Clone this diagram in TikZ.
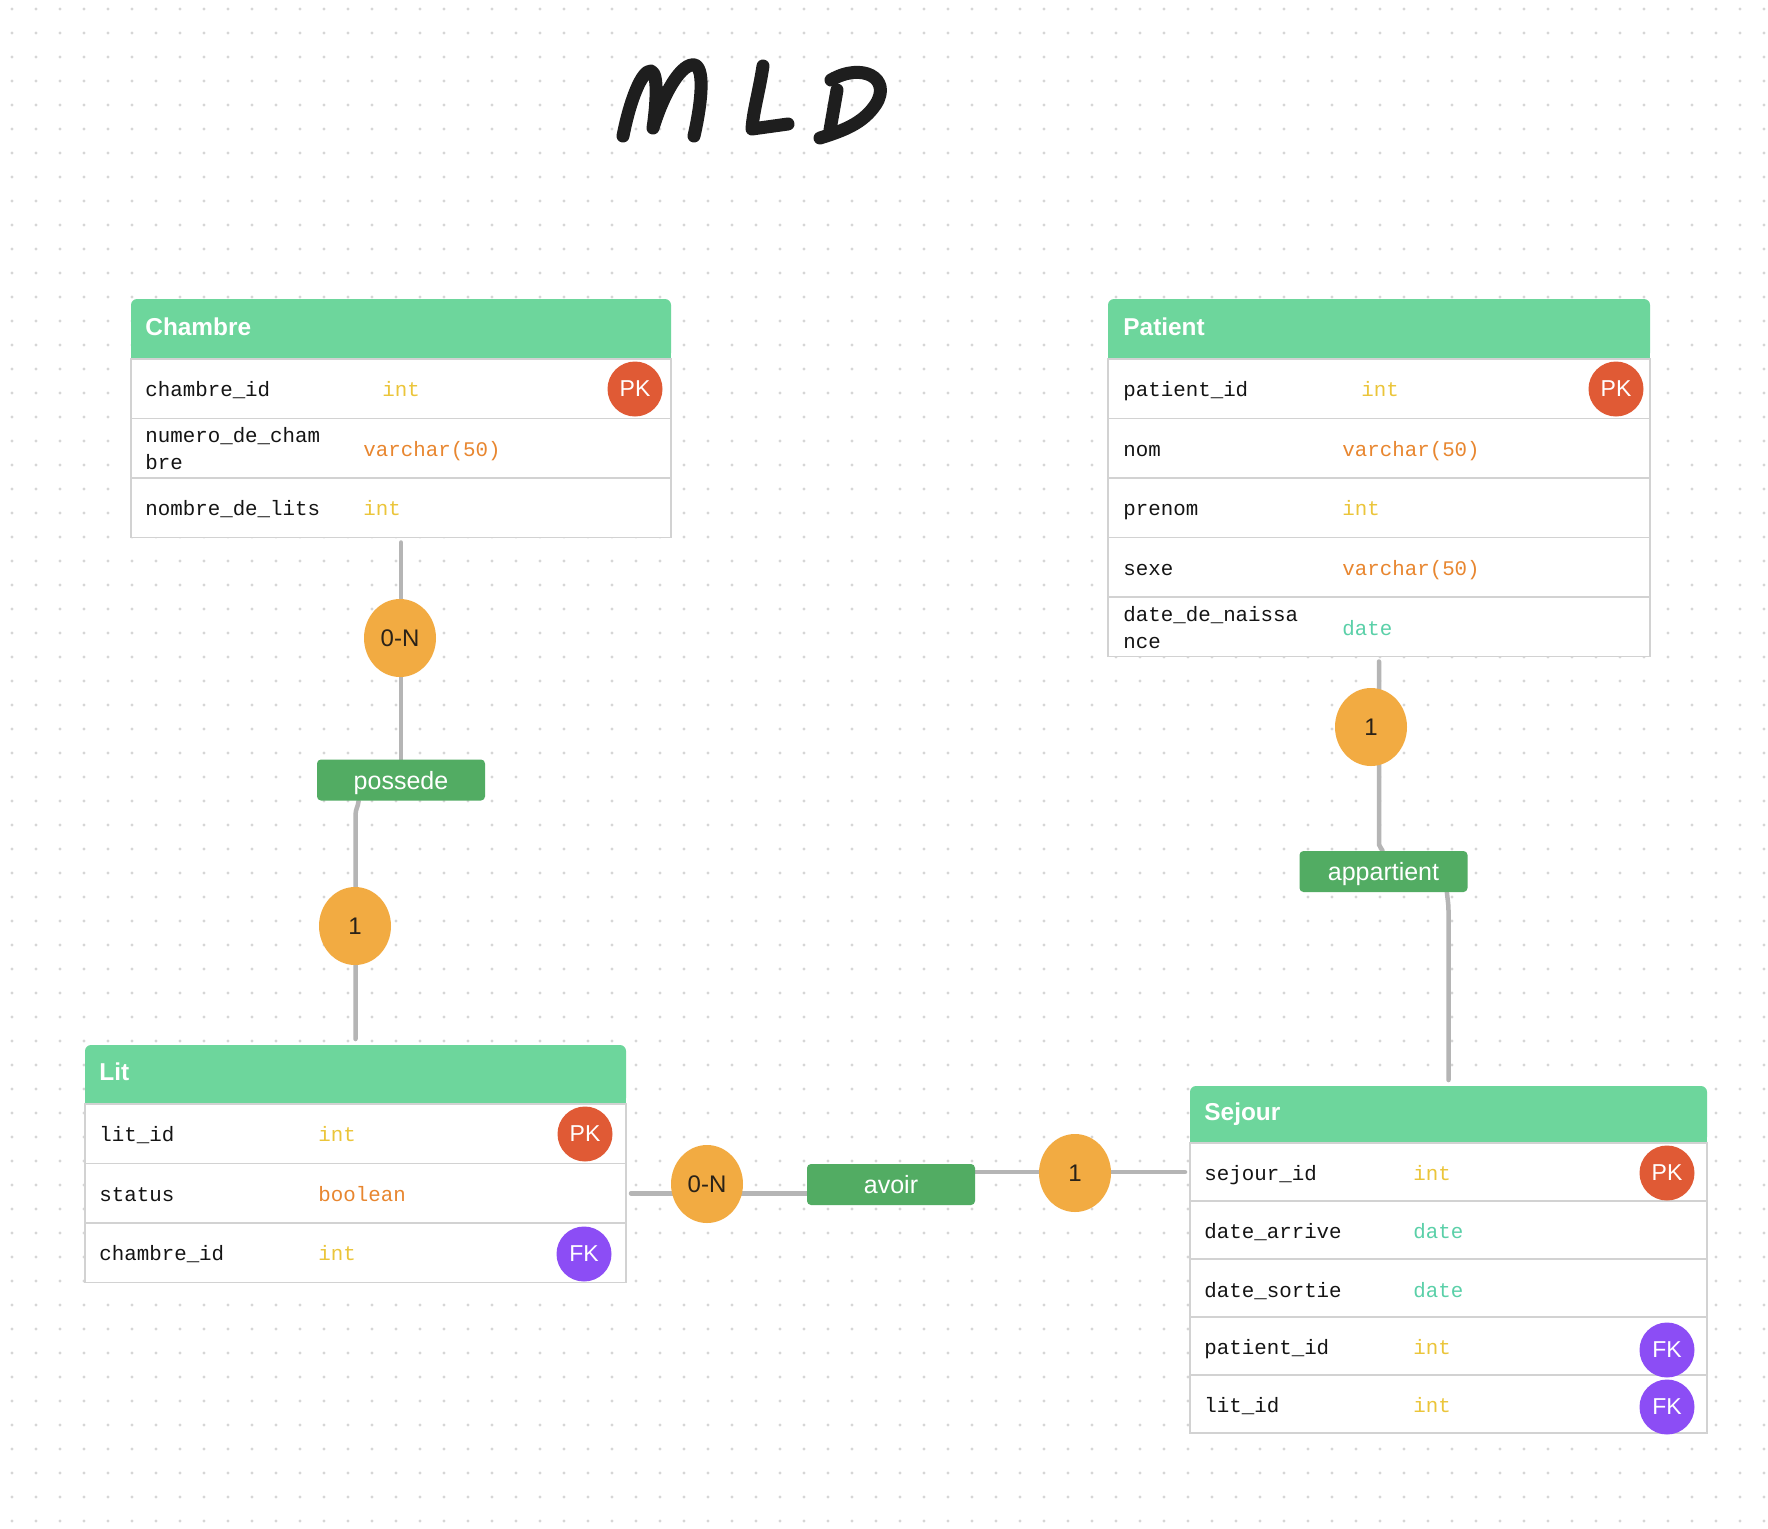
\documentclass[tikz,border=0pt]{standalone}
\usepackage{fontspec}
\setmainfont{Liberation Sans}
\newfontfamily\monof{Liberation Mono}
\usetikzlibrary{shapes.geometric,calc}
\definecolor{hdr}{HTML}{6DD69C}
\definecolor{relgreen}{HTML}{52AC63}
\definecolor{cardor}{HTML}{F2AB42}
\definecolor{cardtxt}{HTML}{2A2218}
\definecolor{pkred}{HTML}{E05A35}
\definecolor{fkpurple}{HTML}{8C4DF5}
\definecolor{cint}{HTML}{EBC53A}
\definecolor{cvar}{HTML}{E8862F}
\definecolor{cdate}{HTML}{5AD0A8}
\definecolor{dotc}{HTML}{D6D6D6}
\definecolor{rowline}{HTML}{D2D2D2}
\definecolor{conngray}{HTML}{B5B5B5}
\definecolor{txt}{HTML}{141414}
\definecolor{ttl}{HTML}{1E1E1E}
\pgfdeclarelayer{bg}
\pgfdeclarelayer{lines}
\pgfsetlayers{bg,lines,main}
\begin{document}
\begin{tikzpicture}[x=0.5pt,y=-0.5pt,
  rowbox/.style={rectangle, draw=rowline, line width=0.75pt, fill=white, inner sep=0pt, outer sep=0pt, anchor=north west},
  hdrbox/.style={rectangle, fill=hdr, rounded corners=3pt, inner sep=0pt, outer sep=0pt, anchor=north west},
  hdrtxt/.style={anchor=west, inner sep=0pt, text=white, font=\bfseries\fontsize{12.2}{14}\selectfont, text height=8.8pt, text depth=0pt},
  fld/.style={anchor=west, inner sep=0pt, text=txt, font=\monof\fontsize{10.4}{13.5}\selectfont, text height=8.5pt, text depth=1pt},
  fldtwo/.style={anchor=west, inner sep=0pt, text=txt, font=\monof\fontsize{10.4}{13.5}\selectfont, align=left},
  tint/.style={fld, text=cint},
  tvar/.style={fld, text=cvar},
  tdate/.style={fld, text=cdate},
  pk/.style={circle, fill=pkred, text=white, minimum size=27.5pt, inner sep=0pt, font=\fontsize{11.5}{13}\selectfont},
  fk/.style={pk, fill=fkpurple},
  card/.style={ellipse, fill=cardor, text=cardtxt, minimum width=36pt, minimum height=39pt, inner sep=0pt, font=\fontsize{12}{14}\selectfont},
  rel/.style={rectangle, rounded corners=2pt, fill=relgreen, text=white, minimum width=84pt, minimum height=20.5pt, inner sep=0pt, font=\fontsize{12.5}{14}\selectfont, text height=9pt, text depth=0pt},
  conn/.style={draw=conngray, line width=2.25pt, line cap=round},
  mld/.style={draw=ttl, line width=6.5pt, line cap=round, line join=round},
  dotrow/.style={draw=dotc, line width=1.6pt, line cap=round, dash pattern=on 0pt off 12pt}
]
\useasboundingbox (0,0) rectangle (1768,1528);
\begin{pgfonlayer}{bg}
\fill[white] (0,0) rectangle (1768,1528);
\foreach \j in {0,...,63} \draw[dotrow] (12,{9+24*\j}) -- (1768,{9+24*\j});
\end{pgfonlayer}

% ---- title MLD (hand drawn)
\draw[mld] (623,136) .. controls (630,100) and (642,70) .. (651,71) .. controls (659,73) and (656,108) .. (653,128) .. controls (664,92) and (682,62) .. (695,65) .. controls (706,70) and (700,110) .. (694,136);
\draw[mld] (763,66) .. controls (759,92) and (753,112) .. (752,129) -- (788,124);
\draw[mld] (837,90) -- (830,130);
\draw[mld] (831,80) .. controls (862,62) and (892,78) .. (876,104) .. controls (863,124) and (842,131) .. (820,138);

% ---- Chambre
\node[hdrbox, minimum width=270pt, minimum height=30pt] (chambre) at (131,299) {};
\fill[hdr] (131,330) rectangle (671,359);
\node[hdrtxt] (chambre-t) at (145,326.5) {Chambre};
\node[rowbox, minimum width=270pt, minimum height=29.75pt] (chambre-r1) at (131,359) {};
\node[rowbox, minimum width=270pt, minimum height=29.75pt] (chambre-r2) at (131,418.5) {};
\node[rowbox, minimum width=270pt, minimum height=29.75pt] (chambre-r3) at (131,478) {};
\node[fld] (chambre-f1) at (145,389) {chambre\_id};
\node[fldtwo] (chambre-f2) at (145,449) {numero\_de\_cham\\bre};
\node[fld] (chambre-f3) at (145,508) {nombre\_de\_lits};
\node[tint] (chambre-y1) at (382,389) {int};
\node[tvar] (chambre-y2) at (363,448.5) {varchar(50)};
\node[tint] (chambre-y3) at (363,508) {int};
\node[pk] (chambre-pk) at (635,389) {PK};

% ---- Patient
\node[hdrbox, minimum width=271pt, minimum height=30pt] (patient) at (1108,299) {};
\fill[hdr] (1108,330) rectangle (1650,359);
\node[hdrtxt] (patient-t) at (1123,326.5) {Patient};
\node[rowbox, minimum width=271pt, minimum height=29.75pt] (patient-r1) at (1108,359) {};
\node[rowbox, minimum width=271pt, minimum height=29.75pt] (patient-r2) at (1108,418.5) {};
\node[rowbox, minimum width=271pt, minimum height=29.75pt] (patient-r3) at (1108,478) {};
\node[rowbox, minimum width=271pt, minimum height=29.75pt] (patient-r4) at (1108,537.5) {};
\node[rowbox, minimum width=271pt, minimum height=29.75pt] (patient-r5) at (1108,597) {};
\node[fld] (patient-f1) at (1123,389) {patient\_id};
\node[fld] (patient-f2) at (1123,448.5) {nom};
\node[fld] (patient-f3) at (1123,508) {prenom};
\node[fld] (patient-f4) at (1123,567.5) {sexe};
\node[fldtwo] (patient-f5) at (1123,628) {date\_de\_naissa\\nce};
\node[tint] (patient-y1) at (1361,389) {int};
\node[tvar] (patient-y2) at (1342,448.5) {varchar(50)};
\node[tint] (patient-y3) at (1342,508) {int};
\node[tvar] (patient-y4) at (1342,567.5) {varchar(50)};
\node[tdate] (patient-y5) at (1342,628) {date};
\node[pk] (patient-pk) at (1616,389) {PK};

% ---- Lit
\node[hdrbox, minimum width=270.5pt, minimum height=29.5pt] (lit) at (85,1045) {};
\fill[hdr] (85,1075) rectangle (626,1104);
\node[hdrtxt] (lit-t) at (99,1072) {Lit};
\node[rowbox, minimum width=270.5pt, minimum height=29.75pt] (lit-r1) at (85,1104) {};
\node[rowbox, minimum width=270.5pt, minimum height=29.75pt] (lit-r2) at (85,1163.5) {};
\node[rowbox, minimum width=270.5pt, minimum height=29.75pt] (lit-r3) at (85,1223) {};
\node[fld] (lit-f1) at (99,1134) {lit\_id};
\node[fld] (lit-f2) at (99,1193.5) {status};
\node[fld] (lit-f3) at (99,1253) {chambre\_id};
\node[tint] (lit-y1) at (318,1134) {int};
\node[tvar] (lit-y2) at (318,1193.5) {boolean};
\node[tint] (lit-y3) at (318,1253) {int};
\node[pk] (lit-pk) at (585,1134) {PK};
\node[fk] (lit-fk) at (584,1254) {FK};

% ---- Sejour
\node[hdrbox, minimum width=258.5pt, minimum height=28.5pt] (sejour) at (1190,1086) {};
\fill[hdr] (1190,1115) rectangle (1707,1143);
\node[hdrtxt] (sejour-t) at (1204,1112) {Sejour};
\node[rowbox, minimum width=258.5pt, minimum height=29pt] (sejour-r1) at (1190,1143) {};
\node[rowbox, minimum width=258.5pt, minimum height=29pt] (sejour-r2) at (1190,1201) {};
\node[rowbox, minimum width=258.5pt, minimum height=29pt] (sejour-r3) at (1190,1259) {};
\node[rowbox, minimum width=258.5pt, minimum height=29pt] (sejour-r4) at (1190,1317) {};
\node[rowbox, minimum width=258.5pt, minimum height=29pt] (sejour-r5) at (1190,1375) {};
\node[fld] (sejour-f1) at (1204,1173) {sejour\_id};
\node[fld] (sejour-f2) at (1204,1231) {date\_arrive};
\node[fld] (sejour-f3) at (1204,1289.5) {date\_sortie};
\node[fld] (sejour-f4) at (1204,1347) {patient\_id};
\node[fld] (sejour-f5) at (1204,1404.5) {lit\_id};
\node[tint] (sejour-y1) at (1413,1173) {int};
\node[tdate] (sejour-y2) at (1413,1231) {date};
\node[tdate] (sejour-y3) at (1413,1289.5) {date};
\node[tint] (sejour-y4) at (1413,1347) {int};
\node[tint] (sejour-y5) at (1413,1404.5) {int};
\node[pk] (sejour-pk) at (1667,1173) {PK};
\node[fk] (sejour-fk1) at (1667,1350) {FK};
\node[fk] (sejour-fk2) at (1667,1407) {FK};

% ---- relationships
\node[card] (card-ch) at (400,638) {0-N};
\node[rel] (possede) at (401,780) {possede};
\node[card] (card-lit) at (355,926) {1};
\node[card] (card-pat) at (1371,727) {1};
\node[rel] (app) at (1383.5,871.5) {appartient};
\node[card] (card-lit2) at (707,1184) {0-N};
\node[rel] (avoir) at (891,1184.5) {avoir};
\node[card] (card-sej) at (1075,1173) {1};

\begin{pgfonlayer}{lines}
\draw[conn] ([yshift=-2.5pt]chambre-r3.south) -- (chambre-r3.south |- possede.north);
\draw[conn] ([xshift=21pt]possede.south west) to[out=-95,in=90] ($(possede.south west -| lit.north)+(0,-7pt)$) -- ([yshift=3pt]lit.north);
\draw[conn] ([yshift=-2.5pt]patient-r5.south) -- ($(patient-r5.south |- app.north)+(0,3pt)$) to[out=-90,in=95] ([xshift=-0.5pt]app.north);
\draw[conn] ([xshift=-10.5pt]app.south east) to[out=-85,in=90] ($(app.south -| sejour.north)+(0,-9pt)$) -- ([yshift=3pt]sejour.north);
\draw[conn] ([xshift=2.5pt]lit-r2.east) -- (avoir.west |- lit-r2.east);
\draw[conn] (avoir.east |- sejour-r1.west) -- ([xshift=-2.5pt]sejour-r1.west);
\end{pgfonlayer}
\end{tikzpicture}
\end{document}
